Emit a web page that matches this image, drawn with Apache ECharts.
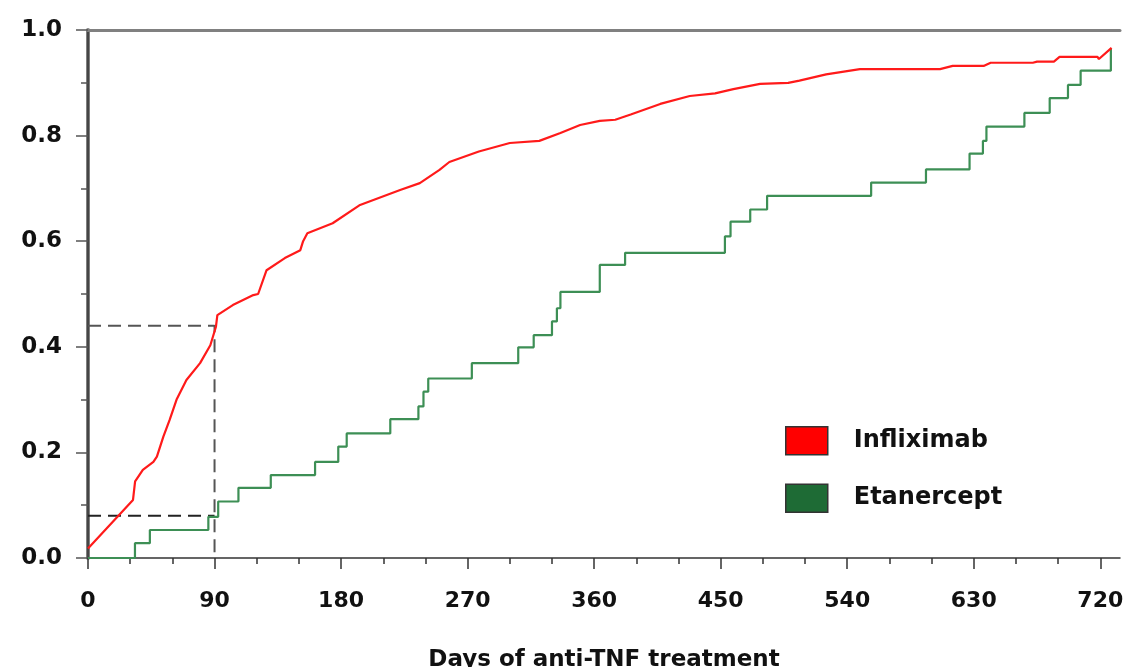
<!DOCTYPE html>
<html>
<head>
<meta charset="utf-8">
<script src="https://cdn.jsdelivr.net/npm/echarts@6/dist/echarts.min.js"></script>
<style>
  html, body { margin: 0; padding: 0; background: #fff; }
  #chart { width: 1126px; height: 667px; }
</style>
</head>
<body>
<div id="chart"></div>
<script>
// days of treatment, cumulative probability
const infliximab = [
  [0, 0.018], [32, 0.11], [33.5, 0.145], [39, 0.167], [46.5, 0.182], [49, 0.192],
  [53.6, 0.23], [58, 0.261], [63, 0.30], [70, 0.337], [79.7, 0.369], [87, 0.403],
  [91, 0.438], [92, 0.46], [103, 0.479], [117.6, 0.498], [121, 0.50], [127, 0.545],
  [140, 0.568], [151, 0.583], [153, 0.60], [156, 0.615], [174, 0.634], [193, 0.668],
  [222, 0.697], [236, 0.71], [250, 0.735], [257, 0.75], [278, 0.77], [300, 0.786],
  [321, 0.79], [336, 0.805], [350, 0.82], [364, 0.828], [375, 0.83], [386, 0.84],
  [407, 0.86], [428, 0.875], [446, 0.88], [459, 0.888], [478, 0.898], [498, 0.90],
  [506, 0.904], [525, 0.916], [549, 0.926], [606, 0.926], [615, 0.932], [637, 0.932],
  [642, 0.938], [672, 0.938], [675, 0.94], [687, 0.94], [691, 0.949], [718, 0.949],
  [719, 0.945], [728, 0.966]
];
const etanercept = [
  [0, 0], [33.4, 0.028], [44, 0.053], [85.6, 0.078], [92.6, 0.107], [107, 0.133],
  [130, 0.157], [161.5, 0.182], [178, 0.211], [184, 0.236], [215, 0.263], [235, 0.287],
  [238.6, 0.315], [242, 0.34], [273, 0.369], [306, 0.399], [317, 0.422], [330, 0.448],
  [333.5, 0.473], [336, 0.504], [364, 0.555], [382, 0.578], [453, 0.609], [457, 0.637],
  [471, 0.66], [483, 0.686], [557, 0.711], [596, 0.736], [627, 0.766], [636.5, 0.79],
  [639, 0.817], [666, 0.843], [684, 0.871], [697, 0.896], [706, 0.923], [727.5, 0.965]
];
const refDay = 90;
const refInfliximab = 0.44;
const refEtanercept = 0.08;
const xLabels = [0, 90, 180, 270, 360, 450, 540, 630, 720];
const xMinor = [0, 30, 60, 90, 120, 150, 180, 210, 240, 270, 300, 330, 360, 390, 420, 450, 480, 510, 540, 570, 600, 630, 660, 690, 720];
const xMax = 734;

const chart = echarts.init(document.getElementById("chart"));
const font = "DejaVu Sans";

const option = {
  animation: false,
  grid: { left: 88, right: 6, top: 30, bottom: 109, containLabel: false, outerBoundsMode: "none" },
  xAxis: [
    {
      type: "value",
      min: 0,
      max: xMax,
      position: "bottom",
      splitLine: { show: false },
      axisLine: { lineStyle: { color: "#333", width: 1.5 } },
      axisTick: { customValues: xMinor, length: 6, lineStyle: { color: "#333", width: 1.5 } },
      axisLabel: {
        customValues: xLabels,
        margin: 32,
        color: "#111",
        fontFamily: font,
        fontWeight: "bold",
        fontSize: 22
      },
      name: "Days of anti-TNF treatment",
      nameLocation: "middle",
      nameGap: 91,
      nameTextStyle: { color: "#111", fontFamily: font, fontWeight: "bold", fontSize: 23 }
    },
    {
      type: "value",
      min: 0,
      max: xMax,
      position: "bottom",
      splitLine: { show: false },
      axisLine: { show: false },
      axisTick: { customValues: xLabels, length: 11, lineStyle: { color: "#333", width: 1.5 } },
      axisLabel: { show: false }
    },
    {
      type: "value",
      min: 0,
      max: xMax,
      position: "top",
      splitLine: { show: false },
      axisLine: { lineStyle: { color: "#808080", width: 3 } },
      axisTick: { show: false },
      axisLabel: { show: false }
    }
  ],
  yAxis: [
    {
      type: "value",
      min: 0,
      max: 1,
      interval: 0.2,
      position: "left",
      splitLine: { show: false },
      axisLine: { lineStyle: { color: "#808080", width: 4 } },
      axisTick: { length: 12, lineStyle: { color: "#555", width: 1.5 } },
      minorTick: { show: true, splitNumber: 2, length: 7, lineStyle: { color: "#555", width: 1.5 } },
      axisLabel: {
        margin: 26,
        color: "#111",
        fontFamily: font,
        fontWeight: "bold",
        fontSize: 23,
        formatter: (v) => v.toFixed(1)
      }
    },
    {
      type: "value",
      min: 0,
      max: 1,
      position: "right",
      splitLine: { show: false },
      axisLine: { lineStyle: { color: "#333", width: 1.5 } },
      axisTick: { show: false },
      axisLabel: { show: false }
    }
  ],
  legend: {
    orient: "vertical",
    left: 780,
    top: 421,
    itemWidth: 42,
    itemHeight: 28,
    itemGap: 28,
    selectedMode: false,
    textStyle: {
      color: "#111",
      fontFamily: font,
      fontWeight: "bold",
      fontSize: 24,
      padding: [0, 0, 0, 21]
    },
    data: [
      { name: "Infliximab", icon: "rect", itemStyle: { color: "#ff0000", borderColor: "#333", borderWidth: 1.5 } },
      { name: "Etanercept", icon: "rect", itemStyle: { color: "#1e6b35", borderColor: "#333", borderWidth: 1.5 } }
    ]
  },
  series: [
    {
      name: "ref-inf",
      type: "line",
      data: [[0, refInfliximab], [refDay, refInfliximab], [refDay, 0]],
      symbol: "none",
      lineStyle: { color: "#555", width: 2, type: [13, 7] },
      silent: true,
      z: 1
    },
    {
      name: "ref-eta",
      type: "line",
      data: [[0, refEtanercept], [refDay, refEtanercept]],
      symbol: "none",
      lineStyle: { color: "#222", width: 2, type: [13, 7] },
      silent: true,
      z: 1
    },
    {
      name: "Etanercept",
      type: "line",
      step: "end",
      data: etanercept,
      symbol: "none",
      color: "#1e6b35",
      lineStyle: { color: "#3d8f55", width: 2.2 },
      z: 2
    },
    {
      name: "Infliximab",
      type: "line",
      data: infliximab,
      symbol: "none",
      color: "#ff0000",
      lineStyle: { color: "#ff1a1a", width: 2.2 },
      z: 3
    }
  ]
};

chart.setOption(option);
</script>
</body>
</html>
